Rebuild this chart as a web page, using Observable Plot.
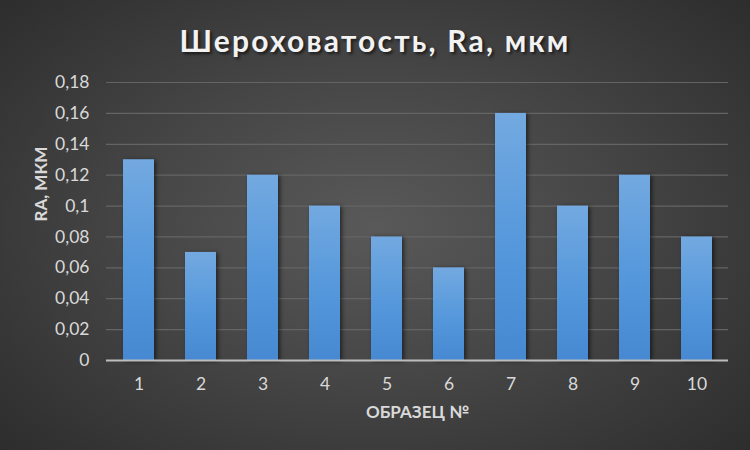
<!DOCTYPE html>
<html>
<head>
<meta charset="utf-8">
<script src="https://cdn.jsdelivr.net/npm/d3@7"></script>
<script src="https://cdn.jsdelivr.net/npm/@observablehq/plot@0.6"></script>
<style>
  html, body { margin: 0; padding: 0; }
  #wrap {
    width: 750px; height: 450px; position: relative; overflow: hidden;
    background: radial-gradient(ellipse 70% 75% at 50% 50%, #595959 0%, #464646 45%, #2c2c2c 100%);
    font-family: Lato, "Open Sans", sans-serif;
  }
  #title {
    height: 70px; line-height: 80px; text-align: center; color: #f2f2f2;
    font-size: 30px; font-weight: bold; letter-spacing: 2.2px;
    text-shadow: 2px 2px 3px rgba(0,0,0,0.6);
  }
  #chart svg { display: block; }
</style>
</head>
<body>
<div id="wrap">
  <div id="title">Шероховатость, Ra, мкм</div>
  <div id="chart"></div>
</div>
<script>
const samples = ["1", "2", "3", "4", "5", "6", "7", "8", "9", "10"];
const ra = [0.13, 0.07, 0.12, 0.10, 0.08, 0.06, 0.16, 0.10, 0.12, 0.08];
const yTicks = [0, 0.02, 0.04, 0.06, 0.08, 0.10, 0.12, 0.14, 0.16, 0.18];
const yTitle = "RA, МКМ";
const xTitle = "ОБРАЗЕЦ №";

const data = samples.map((s, i) => ({sample: s, value: ra[i]}));
const ruFmt = d3.formatLocale({decimal: ",", thousands: " ", grouping: [3], currency: ["", ""]}).format("~g");

const plot = Plot.plot({
  width: 750,
  height: 380,
  marginLeft: 106,
  marginRight: 22,
  marginTop: 12,
  marginBottom: 90,
  style: {background: "transparent", fontFamily: "Lato, 'Open Sans', sans-serif", fontSize: "17px", color: "#d9d9d9"},
  x: {domain: samples, paddingInner: 0.5, paddingOuter: 0.25, label: null},
  y: {domain: [0, 0.18], label: null},
  marks: [
    Plot.gridY(yTicks, {stroke: "#646464", strokeOpacity: 1, strokeWidth: 1.2}),
    Plot.barY(data, {x: "sample", y: "value", fill: "url(#barGrad)", className: "bars"}),
    Plot.ruleY([0], {stroke: "#bdbdbd", strokeWidth: 2}),
    Plot.axisY(yTicks, {tickSize: 0, tickPadding: 17, tickFormat: ruFmt, label: null, fill: "#d9d9d9", fontSize: 17.5}),
    Plot.axisX({tickSize: 0, tickPadding: 17, label: null, fill: "#d9d9d9", fontSize: 17.5}),
    Plot.text([yTitle], {frameAnchor: "left", dx: -65, rotate: -90, fontWeight: "bold", fontSize: 17, fill: "#d9d9d9", text: d => d}),
    Plot.text([xTitle], {frameAnchor: "bottom", dy: 57, fontWeight: "bold", fontSize: 17, fill: "#d9d9d9", text: d => d})
  ]
});

const svg = d3.select(plot);
const defs = svg.insert("defs", ":first-child");
const g = defs.append("linearGradient").attr("id", "barGrad").attr("x1", 0).attr("y1", 0).attr("x2", 0).attr("y2", 1);
g.append("stop").attr("offset", "0%").attr("stop-color", "#73a9e0");
g.append("stop").attr("offset", "50%").attr("stop-color", "#5799dc");
g.append("stop").attr("offset", "100%").attr("stop-color", "#4689d2");
svg.selectAll(".bars").style("filter", "drop-shadow(2px 1px 2px rgba(0,0,0,0.55))");

document.getElementById("chart").appendChild(plot);
</script>
</body>
</html>
